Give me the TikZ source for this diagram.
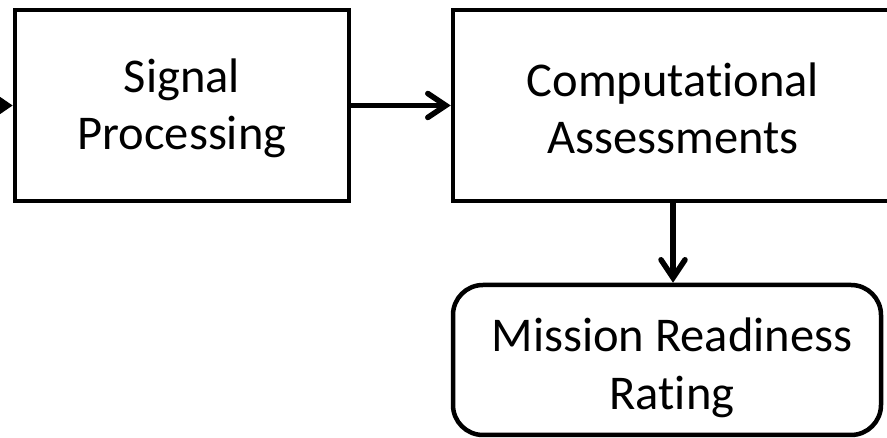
\documentclass[tikz,border=0pt]{standalone}
\usepackage{fontspec}
\setmainfont{Carlito}[Ligatures=NoCommon]
\usetikzlibrary{arrows.meta}
\begin{document}
\begin{tikzpicture}[x=1pt,y=1pt,
  box/.style={draw, line width=4.5pt, inner sep=0pt},
  txt/.style={inner sep=0pt, align=center, font=\fontsize{48.5}{57.5}\selectfont},
  conn/.style={line width=5.5pt, -{Straight Barb[length=18pt,width=24pt,line cap=round]}}]
\useasboundingbox (0,0) rectangle (887,438);
\clip (0,0) rectangle (887,438);
\node[box, minimum width=334pt, minimum height=191pt] (sp) at (182,332.5) {};
\node[box, minimum width=440pt, minimum height=191pt] (ca) at (673,332.5) {};
\node[box, rounded corners=30pt, minimum width=428pt, minimum height=150pt] (mr) at (667,78) {};
\node[txt] (spt) at ([yshift=-3pt]sp.center) {Signal\\Processing};
\node[txt] (cat) at ([yshift=-3pt]ca.center) {Computational\\Assessments};
\node[txt] (mrt) at ([xshift=5pt,yshift=-8pt]mr.center) {Mission Readiness\\Rating};
\coordinate (in) at (-30,332.5);
\draw[line width=4.5pt, -{Triangle[length=14pt,width=18pt]}] (in) -- (sp.west);
\draw[conn] (sp.east) -- (ca.west);
\draw[conn] (ca.south) -- (ca.south |- mr.north);
\end{tikzpicture}
\end{document}
